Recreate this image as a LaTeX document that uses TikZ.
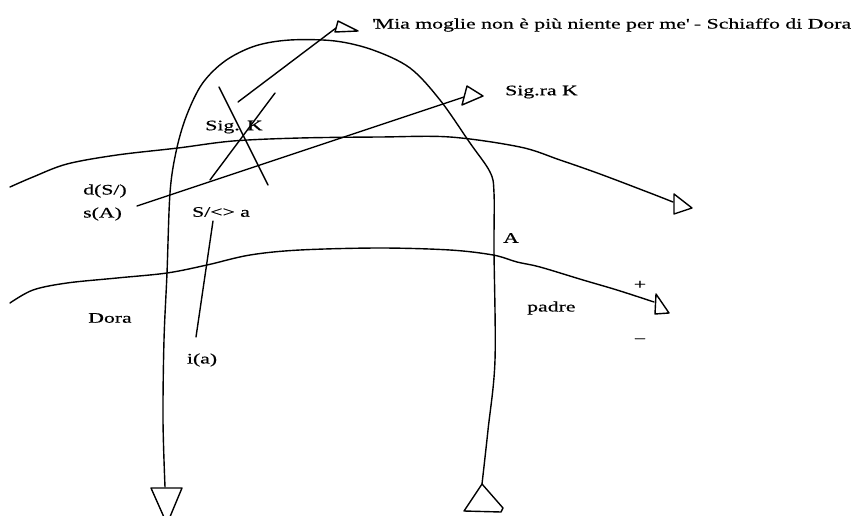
\documentclass[tikz,border=0pt]{standalone}
\usepackage{fontspec}
\newfontfamily\lacfont[FakeStretch=1.5, FakeBold=0.6]{Liberation Serif}
\usetikzlibrary{positioning}

\begin{document}
\begin{tikzpicture}[x=1pt, y=-1pt,
    line/.style={line width=1.4pt, line join=round, line cap=round},
    tri/.style={line width=1.4pt, line join=round, fill=white},
    lbl/.style={font=\lacfont\fontsize{14.5}{17}\selectfont, inner sep=0pt},
]
\useasboundingbox (0,0) rectangle (861,516);
\clip (0,0) rectangle (861,516);

\coordinate (archS) at (482,484);
\coordinate (archE) at (165,487);
\coordinate (topS) at (10,187);
\coordinate (topE) at (673,202);
\coordinate (lowS) at (10,303);
\coordinate (lowE) at (654,302);

\node[lbl, anchor=west] (mia) at (372,25) {\textquotesingle Mia moglie non è più niente per me\textquotesingle\ - Schiaffo di Dora};
\node[lbl, anchor=west] (sigra) at (505,92) {Sig.ra K};
\node[lbl] (sigk) at (234,127) {Sig. K};
\node[lbl, anchor=west] (dS) at (83,191) {d(S/)};
\node[lbl, anchor=west] (sA) at (83,214) {s(A)};
\node[lbl] (Sa) at (221,212) {S/<> a};
\node[lbl] (A) at (511,238) {A};
\node[lbl, anchor=west] (padre) at (527,308) {padre};
\node[lbl] (dora) at (110,318) {Dora};
\node[lbl] (ia) at (202,360) {i(a)};
\node[lbl] (plus) at (640,285) {+};
\node[lbl] (minus) at (640,341) {−};

\draw[line] plot[smooth, tension=0.55] coordinates {(archS) (488,430) (495,360) (494,250) (494,193) (490,172) (470,143) (440,100) (410,68) (373,50) (335,41) (290,40) (255,46) (225,61) (202,84) (186,117) (176,152) (170,193) (167,273) (164,340) (163,420) (archE)};
\draw[tri] (151,488) -- (182,488) -- (167,524) -- cycle;
\draw[tri] (archS) -- (503,508) -- (501,512) -- (464,511) -- cycle;

\draw[line] plot[smooth, tension=0.55] coordinates {(topS) (33,177) (67,164) (117,155) (178,148) (233,141) (300,138) (380,137) (450,137) (520,147) (560,160) (600,174) (650,193) (topE)};
\draw[tri] (674,194) -- (692,208) -- (674,214) -- cycle;

\draw[line] plot[smooth, tension=0.55] coordinates {(lowS) (33,290) (67,283) (117,278) (167,273) (207,265) (250,255) (300,250) (380,248) (450,250) (493,255) (517,262) (540,267) (583,280) (617,290) (lowE)};
\draw[tri] (656,294) -- (669,313) -- (655,314) -- cycle;

\coordinate (sAo) at (137,206);
\coordinate (sAe) at (464,97);
\draw[line] (sAo) -- (sAe);
\draw[tri] (467,86) -- (483,96) -- (462,105) -- cycle;

\coordinate (miao) at (238,102);
\coordinate (miae) at (336,28);
\draw[line] (miao) -- (miae);
\draw[tri] (338,21) -- (358,31) -- (335,32) -- cycle;

\coordinate (barA) at (219,87);
\coordinate (barB) at (268,185);
\coordinate (barC) at (275,93);
\coordinate (barD) at (210,180);
\draw[line] (barA) -- (barB);
\draw[line] (barC) -- (barD);

\coordinate (iao) at (213,221);
\coordinate (iae) at (196,337);
\draw[line] (iao) -- (iae);
\end{tikzpicture}
\end{document}
